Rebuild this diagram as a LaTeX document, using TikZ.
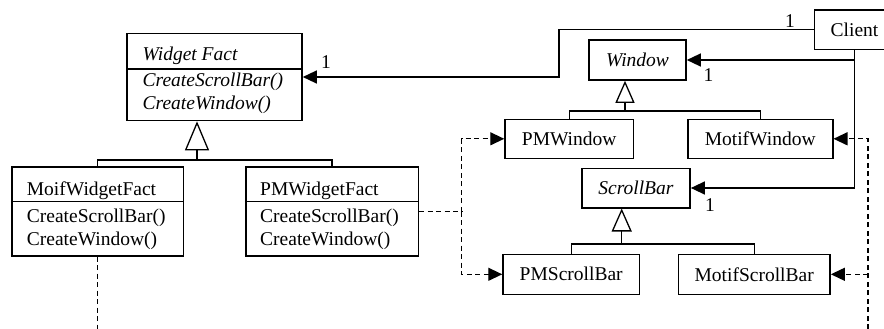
\documentclass[tikz,border=0pt]{standalone}
\usepackage{fontspec}
\setmainfont{Liberation Serif}
\usetikzlibrary{arrows.meta}
\begin{document}
\begin{tikzpicture}[x=1pt,y=-1pt,
  font=\fontsize{19.5}{23}\selectfont,
  box/.style={draw, line width=1.6pt, inner sep=0pt},
  txt/.style={inner sep=0pt, anchor=base west},
  mult/.style={inner sep=0pt},
  conn/.style={line width=1.3pt},
  dconn/.style={line width=1.3pt, dash pattern=on 5pt off 3.5pt},
  arr/.style={-{Triangle[length=14pt,width=13pt]}},
  divider/.style={line width=1.3pt}]
\useasboundingbox (0,0) rectangle (884,329);

% Widget Fact
\node[box, minimum width=175pt, minimum height=87pt] (WF) at (214.5,77) {};
\node[txt] (wft) at (142.5,61) {\itshape Widget Fact};
\draw[divider] (WF.west |- 0,69) -- (WF.east |- 0,69);
\node[txt] (wf1) at (142.5,86.5) {\itshape CreateScrollBar()};
\node[txt] (wf2) at (142.5,109.5) {\itshape CreateWindow()};

% MoifWidgetFact
\node[box, minimum width=171.6pt, minimum height=88.6pt] (Moif) at (97.5,211.5) {};
\node[txt] (mot) at (26.7,195) {MoifWidgetFact};
\draw[divider] (Moif.west |- 0,201.7) -- (Moif.east |- 0,201.7);
\node[txt] (mo1) at (26.7,222) {CreateScrollBar()};
\node[txt] (mo2) at (26.7,245.5) {CreateWindow()};

% PMWidgetFact
\node[box, minimum width=172.6pt, minimum height=88.6pt] (PMWF) at (332,211.5) {};
\node[txt] (pmt) at (260,195) {PMWidgetFact};
\draw[divider] (PMWF.west |- 0,201.7) -- (PMWF.east |- 0,201.7);
\node[txt] (pm1) at (260,222) {CreateScrollBar()};
\node[txt] (pm2) at (260,245.5) {CreateWindow()};

% Right side classes
\node[box, minimum width=80pt, minimum height=39.3pt] (Client) at (854.5,29.7) {Client};
\node[box, minimum width=97pt, minimum height=40pt] (Window) at (637.5,60) {\itshape Window};
\node[box, minimum width=128.3pt, minimum height=39pt] (PMWindow) at (569.2,138.8) {PMWindow};
\node[box, minimum width=145pt, minimum height=39pt] (MotifWindow) at (760.2,138.8) {MotifWindow};
\node[box, minimum width=108.3pt, minimum height=39.4pt] (ScrollBar) at (635.9,188) {\itshape ScrollBar};
\node[box, minimum width=136.3pt, minimum height=40pt] (PMScrollBar) at (571.2,274.3) {PMScrollBar};
\node[box, minimum width=151.7pt, minimum height=40pt] (MotifScrollBar) at (754.2,274.3) {MotifScrollBar};

% Associations from Client
\coordinate (c2) at (559,77);
\draw[conn,arr] (Client.west) -| (c2) -- (WF.east);
\draw[conn,arr] (Client.south) |- (Window.east);
\draw[conn,arr] (Client.south) |- (ScrollBar.east);

% multiplicities
\node[mult] (m1) at (326,61.7) {1};
\node[mult] (m2) at (790,20.8) {1};
\node[mult] (m3) at (708.5,75.3) {1};
\node[mult] (m4) at (710,205) {1};

% Generalizations
\coordinate (g1) at (197,160);
\draw[conn] (Moif.north) |- (g1) -| (PMWF.north);
\draw[conn,-{Triangle[open,length=29pt,width=24pt]}] (g1) -- (g1 |- WF.south);
\coordinate (g2) at (625,111);
\draw[conn] (PMWindow.north) |- (g2) -| (MotifWindow.north);
\draw[conn,-{Triangle[open,length=22pt,width=19pt]}] (g2) -- (g2 |- Window.south);
\coordinate (g3) at (621.7,244);
\draw[conn] (PMScrollBar.north) |- (g3) -| (MotifScrollBar.north);
\draw[conn,-{Triangle[open,length=23pt,width=20pt]}] (g3) -- (g3 |- ScrollBar.south);

% Dashed dependencies
\coordinate (J) at (461.7,211.5);
\draw[dconn] (PMWF.east) -- (J);
\draw[dconn,arr] (J) |- (PMWindow.west);
\draw[dconn,arr] (J) |- (PMScrollBar.west);
\coordinate (mb) at (97.5,329);
\draw[dconn] (Moif.south) -- (mb);
\coordinate (rb) at (868,329);
\draw[dconn,arr] (rb) |- (MotifWindow.east);
\draw[dconn,arr] (rb |- MotifScrollBar.east) -- (MotifScrollBar.east);
\end{tikzpicture}
\end{document}
